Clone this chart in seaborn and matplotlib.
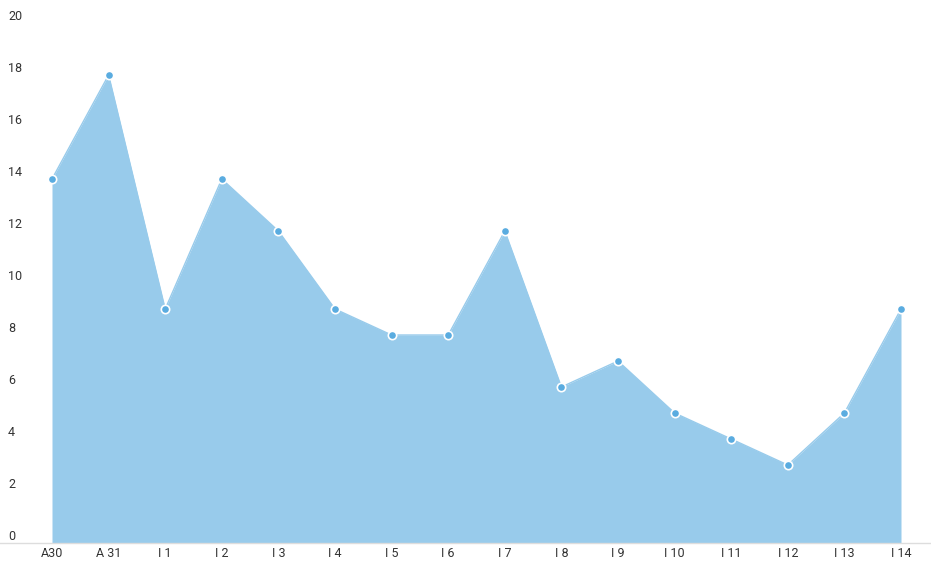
import numpy as np
import pandas as pd
import seaborn as sns
import matplotlib.pyplot as plt
import matplotlib.transforms as mtransforms

# Data
labels = ["A30", "A 31", "I 1", "I 2", "I 3", "I 4", "I 5", "I 6",
          "I 7", "I 8", "I 9", "I 10", "I 11", "I 12", "I 13", "I 14"]
values = [14, 18, 9, 14, 12, 9, 8, 8, 12, 6, 7, 5, 4, 3, 5, 9]
y_ticks = [0, 2, 4, 6, 8, 10, 12, 14, 16, 18, 20]

sns.set_style("white")
plt.rcParams['font.family'] = ['Roboto', 'DejaVu Sans']

fill_color = "#98CBEB"
dot_color = "#5AACE0"

df = pd.DataFrame({"pos": np.arange(len(labels)), "value": values})

fig = plt.figure(figsize=(9.31, 5.78), dpi=100)
ax = fig.add_axes([0, 35 / 578, 1, 543 / 578])

ax.fill_between(df["pos"], 0, df["value"], color=fill_color, linewidth=0, zorder=1)
sns.lineplot(data=df, x="pos", y="value", ax=ax, color=fill_color, linewidth=1,
             marker="o", markersize=6, markerfacecolor=dot_color,
             markeredgecolor="white", markeredgewidth=1.2, zorder=3)

step = (901 - 52) / 15
ax.set_xlim(-52 / step, 15 + 30 / step)
ax.set_ylim(0, 543 / 26)

ax.set_xticks(df["pos"])
ax.set_xticklabels(labels, fontsize=9, color="#333333")
ax.tick_params(axis="x", length=0, pad=3)
ax.set_yticks([])
ax.set_xlabel("")
ax.set_ylabel("")

# y labels sit a little above their value, at the left edge
offset = mtransforms.ScaledTranslation(0, 7 / 100, fig.dpi_scale_trans)
trans = mtransforms.blended_transform_factory(ax.transAxes, ax.transData) + offset
for t in y_ticks:
    ax.text(8 / 931, t, str(t), transform=trans, ha="left", va="center",
            fontsize=9, color="#333333", clip_on=False)

for side in ["top", "right", "left"]:
    ax.spines[side].set_visible(False)
ax.spines["bottom"].set_color("#dddddd")
ax.spines["bottom"].set_linewidth(1)

fig.savefig("out.png", dpi=100)
